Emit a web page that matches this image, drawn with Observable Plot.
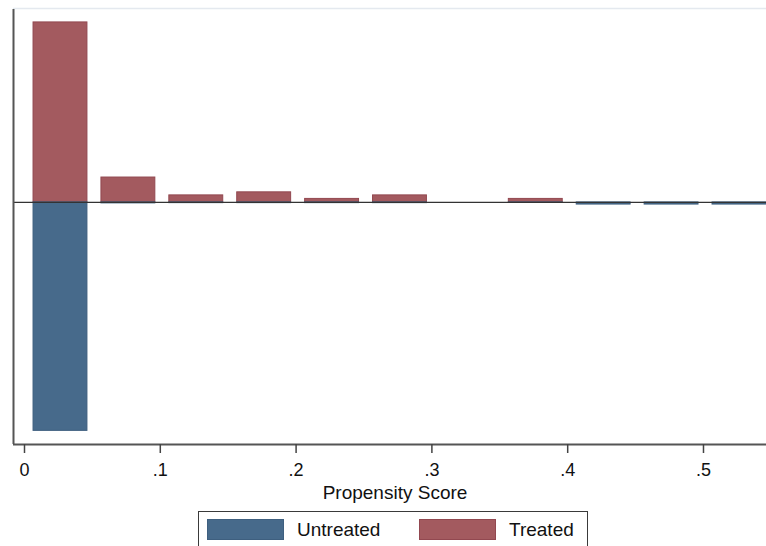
<!DOCTYPE html>
<html>
<head>
<meta charset="utf-8">
<script src="https://cdn.jsdelivr.net/npm/d3@7"></script>
<script src="https://cdn.jsdelivr.net/npm/@observablehq/plot@0.6"></script>
<style>
  html, body { margin: 0; padding: 0; background: #fff; overflow: hidden; }
  body { width: 766px; height: 546px; position: relative; font-family: "Liberation Sans", Arial, sans-serif; }
  #legend {
    position: absolute; left: 198px; top: 511px; width: 390px; height: 44px;
    border: 1.5px solid #3a3a3a; box-sizing: border-box; background: #fff;
  }
  .sw { position: absolute; top: 7px; width: 77px; height: 21px; box-sizing: border-box; }
  .lb { position: absolute; top: 7px; font-size: 19px; color: #111; line-height: 22px; }
</style>
</head>
<body>
<div id="chart"></div>
<div id="legend"></div>
<script>
// Bins of propensity score (width 0.05)
const binStart = [0.0015, 0.0515, 0.1015, 0.1515, 0.2015, 0.2515, 0.3015, 0.3515, 0.4015, 0.4515, 0.5015];
const binEnd   = [0.0515, 0.1015, 0.1515, 0.2015, 0.2515, 0.3015, 0.3515, 0.4015, 0.4515, 0.5015, 0.5515];
// Fractions in each bin (treated shown above the line, untreated below)
const treated   = [0.766, 0.106, 0.030, 0.043, 0.015, 0.030, 0, 0.015, 0, 0, 0];
const untreated = [0.972, 0.004, 0.003, 0.003, 0.003, 0.003, 0, 0.002, 0.009, 0.009, 0.009];
const groups = ["Untreated", "Treated"];
const groupColors = ["#476a8b", "#a35a5f"];
const groupStrokes = ["#3e5f7f", "#924850"];
const xTicks = [0, 0.1, 0.2, 0.3, 0.4, 0.5];
const xTickLabels = ["0", ".1", ".2", ".3", ".4", ".5"];
const xTitle = "Propensity Score";

const rows = [];
binStart.forEach((s, i) => {
  if (treated[i] > 0) rows.push({x1: s, x2: binEnd[i], y: treated[i], g: "Treated"});
  if (untreated[i] > 0) rows.push({x1: s, x2: binEnd[i], y: -untreated[i], g: "Untreated"});
});

const xDomain = [-0.0081, 0.5464];
const yDomain = [-1.03, 0.821];

const chart = Plot.plot({
  width: 766,
  height: 505,
  marginTop: 9,
  marginLeft: 13,
  marginRight: 0,
  marginBottom: 61,
  style: {fontFamily: "'Liberation Sans', Arial, sans-serif", fontSize: "18px", color: "#111", background: "#fff"},
  x: {domain: xDomain},
  y: {domain: yDomain, axis: null},
  color: {domain: groups, range: groupColors},
  marks: [
    Plot.ruleY([yDomain[1]], {stroke: "#e4e9ef", strokeWidth: 1.5, dy: -1}),
    Plot.rectY(rows, {x1: "x1", x2: "x2", y: "y", fill: "g", stroke: d => groupStrokes[groups.indexOf(d.g)], strokeWidth: 1, insetLeft: 7, insetRight: 7}),
    Plot.ruleY([0], {stroke: "#333", strokeWidth: 1.3}),
    Plot.ruleX([xDomain[0]], {stroke: "#555", strokeWidth: 2}),
    Plot.ruleY([yDomain[0]], {stroke: "#555", strokeWidth: 2}),
    Plot.axisX({
      ticks: xTicks,
      tickFormat: d => xTickLabels[xTicks.indexOf(d)],
      tickSize: 9,
      tickPadding: 10,
      stroke: "#444",
      strokeWidth: 1.5,
      label: null,
      fontSize: 18
    }),
    Plot.text([xTitle], {frameAnchor: "bottom", dy: 54, dx: 5, fontSize: 19, fill: "#111"})
  ]
});
document.getElementById("chart").appendChild(chart);

// Legend
const legend = document.getElementById("legend");
const swX = [8, 220];
const lbX = [98, 310];
groups.forEach((g, i) => {
  const sw = document.createElement("div");
  sw.className = "sw";
  sw.style.left = swX[i] + "px";
  sw.style.background = groupColors[i];
  sw.style.border = "1px solid " + groupStrokes[i];
  legend.appendChild(sw);
  const lb = document.createElement("div");
  lb.className = "lb";
  lb.style.left = lbX[i] + "px";
  lb.textContent = g;
  legend.appendChild(lb);
});
</script>
</body>
</html>
